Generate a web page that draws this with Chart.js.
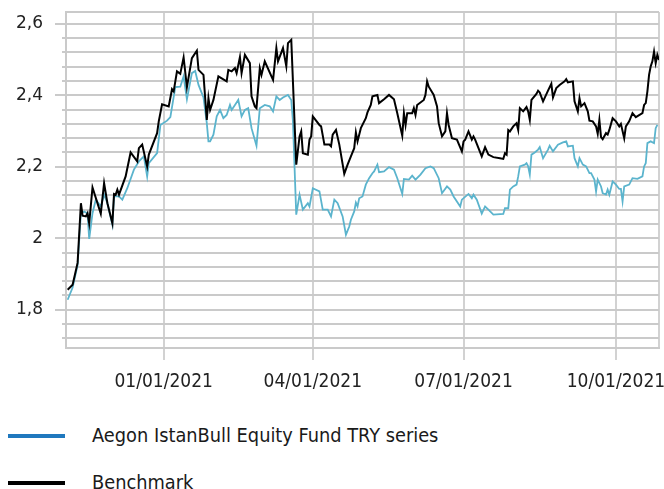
<!DOCTYPE html>
<html>
<head>
<meta charset="utf-8">
<script src="https://cdn.jsdelivr.net/npm/chart.js@4.4.0/dist/chart.umd.min.js"></script>
<style>
    html, body { margin: 0; padding: 0; background: #fff; }
    #wrap { position: relative; width: 664px; height: 489px; overflow: hidden; }
    #chart { position: absolute; left: 0; top: 0; }
    .legend-item { position: absolute; left: 0; height: 24px; width: 600px; }
    .legend-line { position: absolute; left: 8px; width: 57px; height: 4px; top: 10px; }
    .legend-text { position: absolute; left: 92px; top: 0; line-height: 24px; font-family: "DejaVu Sans Condensed", sans-serif; font-size: 19.8px; color: #1a1a1a; white-space: nowrap; }
</style>
</head>
<body>
<div id="wrap">
    <canvas id="chart" width="664" height="400"></canvas>
    <div class="legend-item" style="top: 424px;">
        <div class="legend-line" style="background: #1f78be;"></div>
        <div class="legend-text">Aegon IstanBull Equity Fund TRY series</div>
    </div>
    <div class="legend-item" style="top: 471px;">
        <div class="legend-line" style="background: #000;"></div>
        <div class="legend-text">Benchmark</div>
    </div>
</div>
<script>
const seriesNames = ['Aegon IstanBull Equity Fund TRY series', 'Benchmark'];

const fundDates = [
    '2020-11-04', '2020-11-07', '2020-11-10', '2020-11-12', '2020-11-14', '2020-11-16', '2020-11-17', '2020-11-19',
    '2020-11-21', '2020-11-24', '2020-11-26', '2020-11-28', '2020-12-01', '2020-12-02', '2020-12-05', '2020-12-07',
    '2020-12-10', '2020-12-14', '2020-12-17', '2020-12-20', '2020-12-22', '2020-12-23', '2020-12-28', '2020-12-30',
    '2021-01-03', '2021-01-05', '2021-01-08', '2021-01-11', '2021-01-13', '2021-01-15', '2021-01-18', '2021-01-20',
    '2021-01-22', '2021-01-25', '2021-01-27', '2021-01-28', '2021-01-29', '2021-01-31', '2021-02-02', '2021-02-04',
    '2021-02-06', '2021-02-08', '2021-02-10', '2021-02-11', '2021-02-13', '2021-02-15', '2021-02-17', '2021-02-19',
    '2021-02-21', '2021-02-23', '2021-02-26', '2021-02-28', '2021-03-03', '2021-03-06', '2021-03-08', '2021-03-10',
    '2021-03-12', '2021-03-14', '2021-03-17', '2021-03-19', '2021-03-20', '2021-03-22', '2021-03-24', '2021-03-26',
    '2021-03-29', '2021-03-30', '2021-04-01', '2021-04-05', '2021-04-07', '2021-04-10', '2021-04-12', '2021-04-14',
    '2021-04-16', '2021-04-19', '2021-04-21', '2021-04-23', '2021-04-24', '2021-04-26', '2021-04-27', '2021-04-28',
    '2021-04-29', '2021-05-01', '2021-05-03', '2021-05-05', '2021-05-07', '2021-05-08', '2021-05-10', '2021-05-11',
    '2021-05-14', '2021-05-17', '2021-05-20', '2021-05-22', '2021-05-25', '2021-05-26', '2021-05-29', '2021-05-31',
    '2021-06-02', '2021-06-05', '2021-06-08', '2021-06-11', '2021-06-13', '2021-06-16', '2021-06-18', '2021-06-21',
    '2021-06-23', '2021-06-25', '2021-06-29', '2021-06-30', '2021-07-04', '2021-07-06', '2021-07-07', '2021-07-09',
    '2021-07-12', '2021-07-14', '2021-07-16', '2021-07-19', '2021-07-25', '2021-07-26', '2021-07-28', '2021-07-29',
    '2021-07-31', '2021-08-02', '2021-08-03', '2021-08-04', '2021-08-07', '2021-08-08', '2021-08-09', '2021-08-10',
    '2021-08-11', '2021-08-13', '2021-08-15', '2021-08-16', '2021-08-18', '2021-08-21', '2021-08-22', '2021-08-24',
    '2021-08-27', '2021-08-30', '2021-09-01', '2021-09-02', '2021-09-05', '2021-09-06', '2021-09-08', '2021-09-09',
    '2021-09-11', '2021-09-13', '2021-09-15', '2021-09-16', '2021-09-18', '2021-09-19', '2021-09-20', '2021-09-22',
    '2021-09-23', '2021-09-25', '2021-09-26', '2021-09-27', '2021-09-29', '2021-10-01', '2021-10-03', '2021-10-04',
    '2021-10-05', '2021-10-06', '2021-10-09', '2021-10-11', '2021-10-14', '2021-10-17', '2021-10-18', '2021-10-19',
    '2021-10-20', '2021-10-22', '2021-10-24', '2021-10-25', '2021-10-26'
];
const fundValues = [
    1.828, 1.862, 1.925, 2.070, 2.075, 2.069, 1.998, 2.070,
    2.108, 2.089, 2.122, 2.098, 2.038, 2.117, 2.117, 2.108,
    2.140, 2.192, 2.215, 2.229, 2.173, 2.210, 2.238, 2.317,
    2.329, 2.339, 2.423, 2.424, 2.453, 2.389, 2.462, 2.468,
    2.429, 2.394, 2.322, 2.271, 2.271, 2.290, 2.341, 2.359,
    2.336, 2.345, 2.373, 2.359, 2.373, 2.387, 2.341, 2.359,
    2.364, 2.308, 2.259, 2.364, 2.373, 2.369, 2.355, 2.397,
    2.387, 2.394, 2.401, 2.387, 2.327, 2.066, 2.122, 2.080,
    2.098, 2.089, 2.140, 2.131, 2.080, 2.080, 2.061, 2.108,
    2.098, 2.061, 2.010, 2.033, 2.052, 2.075, 2.100, 2.089,
    2.112, 2.117, 2.150, 2.168, 2.182, 2.187, 2.206, 2.185,
    2.187, 2.199, 2.192, 2.168, 2.124, 2.166, 2.164, 2.175,
    2.164, 2.178, 2.196, 2.201, 2.196, 2.168, 2.126, 2.145,
    2.136, 2.117, 2.089, 2.108, 2.124, 2.112, 2.122, 2.108,
    2.069, 2.089, 2.080, 2.066, 2.068, 2.084, 2.084, 2.136,
    2.145, 2.150, 2.173, 2.201, 2.206, 2.210, 2.201, 2.178,
    2.234, 2.240, 2.248, 2.255, 2.224, 2.248, 2.259, 2.243,
    2.262, 2.268, 2.271, 2.257, 2.259, 2.224, 2.201, 2.224,
    2.206, 2.201, 2.182, 2.182, 2.164, 2.131, 2.164, 2.145,
    2.126, 2.122, 2.136, 2.122, 2.159, 2.150, 2.138, 2.138,
    2.103, 2.145, 2.150, 2.168, 2.166, 2.173, 2.201, 2.210,
    2.266, 2.271, 2.266, 2.308, 2.317
];

const benchDates = [
    '2020-11-04', '2020-11-07', '2020-11-10', '2020-11-12', '2020-11-13', '2020-11-15', '2020-11-16', '2020-11-17',
    '2020-11-19', '2020-11-24', '2020-11-26', '2020-11-28', '2020-12-01', '2020-12-02', '2020-12-03', '2020-12-04',
    '2020-12-05', '2020-12-09', '2020-12-12', '2020-12-16', '2020-12-17', '2020-12-19', '2020-12-22', '2020-12-23',
    '2020-12-28', '2020-12-29', '2020-12-31', '2021-01-04', '2021-01-06', '2021-01-07', '2021-01-09', '2021-01-11',
    '2021-01-13', '2021-01-15', '2021-01-18', '2021-01-21', '2021-01-22', '2021-01-25', '2021-01-27', '2021-01-28',
    '2021-01-29', '2021-01-31', '2021-02-03', '2021-02-08', '2021-02-09', '2021-02-11', '2021-02-13', '2021-02-14',
    '2021-02-16', '2021-02-17', '2021-02-19', '2021-02-22', '2021-02-23', '2021-02-25', '2021-02-26', '2021-02-28',
    '2021-03-01', '2021-03-03', '2021-03-08', '2021-03-10', '2021-03-11', '2021-03-14', '2021-03-16', '2021-03-17',
    '2021-03-19', '2021-03-22', '2021-03-24', '2021-03-25', '2021-03-26', '2021-03-29', '2021-03-30', '2021-03-31',
    '2021-04-01', '2021-04-05', '2021-04-06', '2021-04-08', '2021-04-11', '2021-04-12', '2021-04-13', '2021-04-15',
    '2021-04-17', '2021-04-20', '2021-04-22', '2021-04-24', '2021-04-26', '2021-04-27', '2021-04-28', '2021-04-30',
    '2021-05-03', '2021-05-04', '2021-05-06', '2021-05-07', '2021-05-10', '2021-05-11', '2021-05-14', '2021-05-17',
    '2021-05-20', '2021-05-22', '2021-05-25', '2021-05-26', '2021-05-27', '2021-05-28', '2021-05-31', '2021-06-01',
    '2021-06-02', '2021-06-03', '2021-06-07', '2021-06-08', '2021-06-09', '2021-06-10', '2021-06-13', '2021-06-15',
    '2021-06-16', '2021-06-18', '2021-06-20', '2021-06-21', '2021-06-22', '2021-06-24', '2021-06-27', '2021-06-30',
    '2021-07-01', '2021-07-02', '2021-07-04', '2021-07-06', '2021-07-07', '2021-07-08', '2021-07-12', '2021-07-14',
    '2021-07-16', '2021-07-19', '2021-07-23', '2021-07-25', '2021-07-26', '2021-07-27', '2021-07-28', '2021-07-29',
    '2021-07-31', '2021-08-02', '2021-08-03', '2021-08-04', '2021-08-06', '2021-08-08', '2021-08-09', '2021-08-10',
    '2021-08-11', '2021-08-14', '2021-08-15', '2021-08-16', '2021-08-18', '2021-08-21', '2021-08-23', '2021-08-24',
    '2021-08-26', '2021-08-28', '2021-08-31', '2021-09-01', '2021-09-02', '2021-09-05', '2021-09-06', '2021-09-08',
    '2021-09-09', '2021-09-10', '2021-09-12', '2021-09-14', '2021-09-15', '2021-09-17', '2021-09-19', '2021-09-20',
    '2021-09-21', '2021-09-22', '2021-09-23', '2021-09-25', '2021-09-26', '2021-09-27', '2021-09-29', '2021-10-01',
    '2021-10-03', '2021-10-04', '2021-10-06', '2021-10-07', '2021-10-09', '2021-10-11', '2021-10-13', '2021-10-17',
    '2021-10-18', '2021-10-19', '2021-10-20', '2021-10-21', '2021-10-22', '2021-10-23', '2021-10-24', '2021-10-25',
    '2021-10-26', '2021-10-27'
];
const benchValues = [
    1.856, 1.870, 1.931, 2.098, 2.063, 2.061, 2.070, 2.042,
    2.142, 2.069, 2.154, 2.098, 2.042, 2.124, 2.122, 2.136,
    2.122, 2.173, 2.240, 2.215, 2.252, 2.262, 2.201, 2.234,
    2.294, 2.327, 2.375, 2.369, 2.417, 2.411, 2.467, 2.460,
    2.506, 2.423, 2.504, 2.525, 2.471, 2.457, 2.331, 2.392,
    2.359, 2.387, 2.453, 2.439, 2.471, 2.467, 2.476, 2.462,
    2.507, 2.462, 2.513, 2.490, 2.397, 2.369, 2.364, 2.476,
    2.457, 2.495, 2.443, 2.532, 2.495, 2.532, 2.481, 2.546,
    2.555, 2.206, 2.285, 2.299, 2.238, 2.234, 2.276, 2.285,
    2.341, 2.317, 2.313, 2.262, 2.262, 2.257, 2.290, 2.303,
    2.262, 2.180, 2.206, 2.229, 2.252, 2.296, 2.271, 2.308,
    2.336, 2.352, 2.373, 2.397, 2.401, 2.378, 2.389, 2.401,
    2.389, 2.350, 2.287, 2.350, 2.317, 2.350, 2.350, 2.364,
    2.345, 2.373, 2.387, 2.401, 2.439, 2.424, 2.401, 2.369,
    2.322, 2.285, 2.299, 2.350, 2.317, 2.280, 2.276, 2.243,
    2.271, 2.276, 2.299, 2.276, 2.285, 2.276, 2.229, 2.255,
    2.234, 2.227, 2.224, 2.222, 2.238, 2.234, 2.303, 2.299,
    2.313, 2.322, 2.303, 2.364, 2.355, 2.367, 2.355, 2.331,
    2.387, 2.404, 2.413, 2.408, 2.383, 2.413, 2.432, 2.394,
    2.420, 2.429, 2.439, 2.445, 2.436, 2.439, 2.383, 2.355,
    2.392, 2.369, 2.378, 2.355, 2.329, 2.327, 2.313, 2.292,
    2.331, 2.283, 2.277, 2.294, 2.290, 2.303, 2.336, 2.327,
    2.313, 2.320, 2.280, 2.313, 2.327, 2.350, 2.339, 2.350,
    2.373, 2.378, 2.411, 2.457, 2.481, 2.495, 2.522, 2.490,
    2.513, 2.499
];

// x axis
const xStartDate = '2020-11-03';
const xEndDate = '2021-10-27';
const xTickDates = ['2021-01-01', '2021-04-01', '2021-07-01', '2021-10-01'];
const xTickLabels = ['01/01/2021', '04/01/2021', '07/01/2021', '10/01/2021'];

// y axis
const yMin = 1.693;
const yMax = 2.633;
const yMinorStep = 0.04;
const yTickValues = [1.8, 2.0, 2.2, 2.4, 2.6];
const yTickLabels = ['1,8', '2', '2,2', '2,4', '2,6'];

const GRID = '#cacaca';

function dayNum(s) {
    const p = s.split('-').map(Number);
    return Date.UTC(p[0], p[1] - 1, p[2]) / 864e5;
}

function toPoints(dates, values) {
    return dates.map((d, i) => ({ x: dayNum(d), y: values[i] }));
}

const xMin = dayNum(xStartDate);
const xMax = dayNum(xEndDate);
const xTickNums = xTickDates.map(dayNum);

function isMajorY(v) {
    return yTickValues.some(t => Math.abs(t - v) < 1e-6);
}

// short tick marks on the minor y grid lines
const minorTicks = {
    id: 'minorTicks',
    afterDraw(chart) {
        const y = chart.scales.y;
        const ctx = chart.ctx;
        ctx.save();
        ctx.strokeStyle = GRID;
        ctx.lineWidth = 2;
        y.ticks.forEach(t => {
            if (isMajorY(t.value) || t.value === yMin || t.value === yMax) return;
            const py = Math.round(y.getPixelForValue(t.value));
            ctx.beginPath();
            ctx.moveTo(chart.chartArea.left - 4, py);
            ctx.lineTo(chart.chartArea.left, py);
            ctx.stroke();
        });
        ctx.restore();
    }
};

new Chart(document.getElementById('chart'), {
    type: 'line',
    data: {
        datasets: [{
            label: seriesNames[1],
            data: toPoints(benchDates, benchValues),
            borderColor: '#000000',
            borderWidth: 2,
            pointRadius: 0,
            tension: 0
        }, {
            label: seriesNames[0],
            data: toPoints(fundDates, fundValues),
            borderColor: '#5bb4cd',
            borderWidth: 1.8,
            pointRadius: 0,
            tension: 0
        }]
    },
    plugins: [minorTicks],
    options: {
        responsive: false,
        animation: false,
        layout: { padding: { top: 12, right: 5, left: 0, bottom: 0 } },
        plugins: { legend: { display: false }, tooltip: { enabled: false } },
        scales: {
            x: {
                type: 'linear',
                min: xMin,
                max: xMax,
                afterBuildTicks: scale => {
                    scale.ticks = [xMin, ...xTickNums, xMax].map(v => ({ value: v }));
                },
                afterFit: scale => {
                    scale.height = 52;
                    scale.paddingLeft = 0;
                    scale.paddingRight = 0;
                },
                ticks: {
                    autoSkip: false,
                    maxRotation: 0,
                    padding: 11,
                    color: '#222',
                    font: { family: '"DejaVu Sans Condensed", sans-serif', size: 19 },
                    callback: v => {
                        const i = xTickNums.indexOf(v);
                        return i >= 0 ? xTickLabels[i] : '';
                    }
                },
                grid: {
                    color: '#d2d2d2',
                    lineWidth: 2,
                    tickLength: 12,
                    tickColor: ctx => (ctx.tick && xTickNums.indexOf(ctx.tick.value) >= 0) ? '#d2d2d2' : 'rgba(0,0,0,0)'
                },
                border: { display: true, color: GRID, width: 2 }
            },
            y: {
                type: 'linear',
                min: yMin,
                max: yMax,
                afterBuildTicks: scale => {
                    const t = [yMin];
                    for (let v = 1.72; v <= 2.6001; v += yMinorStep) t.push(Math.round(v * 100) / 100);
                    t.push(yMax);
                    scale.ticks = t.map(v => ({ value: v }));
                },
                afterFit: scale => {
                    scale.width = 66;
                    scale.paddingTop = 0;
                    scale.paddingBottom = 0;
                },
                ticks: {
                    autoSkip: false,
                    padding: 12,
                    color: '#222',
                    font: { family: '"DejaVu Sans", sans-serif', size: 17 },
                    callback: v => {
                        const i = yTickValues.findIndex(t => Math.abs(t - v) < 1e-6);
                        return i >= 0 ? yTickLabels[i] : '';
                    }
                },
                grid: {
                    color: GRID,
                    lineWidth: 2,
                    tickLength: 11,
                    tickColor: ctx => (ctx.tick && isMajorY(ctx.tick.value)) ? GRID : 'rgba(0,0,0,0)'
                },
                border: { display: true, color: GRID, width: 2 }
            }
        }
    }
});
</script>
</body>
</html>
